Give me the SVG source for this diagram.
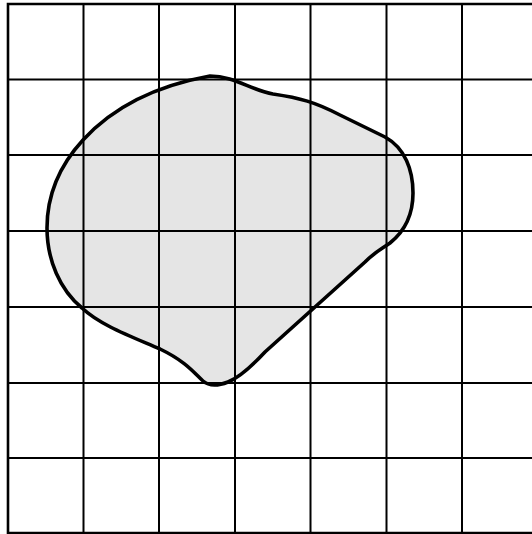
<svg xmlns="http://www.w3.org/2000/svg" xmlns:xlink="http://www.w3.org/1999/xlink" width="532" height="534" viewBox="0 0 532 534">
<style>
.g{stroke:#000;stroke-width:2;fill:none}
.b{stroke:#000;stroke-width:2.6;fill:none}
</style>
<defs>
<path id="blob" d="M 210 76 C 235 76 250 90 273 94 C 300 98 315 102 340 115 L 385 137 C 405 148 413 170 413 193 C 413 220 400 235 390 243 C 380 250 375 252 365 262 L 265 352 C 250 368 238 378 228 382 C 218 386 210 387 203 381 C 195 374 187 362 160 349 C 130 336 100 325 82 308 C 60 290 47 260 47 228 C 47 195 60 165 83 140 C 115 105 160 85 210 76 Z"/>
</defs>
<rect width="532" height="534" fill="#fff"/>
<use xlink:href="#blob" fill="#e5e5e5" stroke="none"/>
<g id="grid">
<path class="g" d="M83.5 4V533M159 4V533M235 4V533M310.5 4V533M386.5 4V533M462 4V533M8 79.5H532M8 155H532M8 231H532M8 307H532M8 383H532M8 458H532"/>
<path class="b" d="M532 4H8V533H532"/>
</g>
<use id="shape" xlink:href="#blob" fill="none" stroke="#000" stroke-width="3.6"/>
</svg>
